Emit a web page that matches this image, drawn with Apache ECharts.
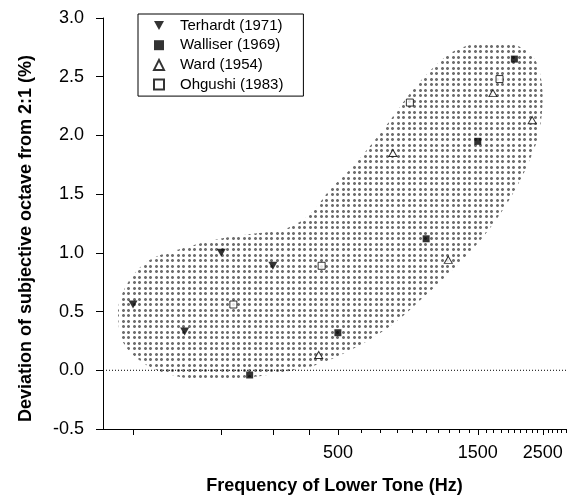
<!DOCTYPE html>
<html>
<head>
<meta charset="utf-8">
<script src="https://cdn.jsdelivr.net/npm/echarts@6/dist/echarts.min.js"></script>
<style>
  html, body { margin: 0; padding: 0; background: #fff; }
  #chart { width: 570px; height: 500px; }
</style>
</head>
<body>
<div id="chart"></div>
<script>
// Octave enlargement: deviation of the subjective octave from 2:1 vs. lower-tone frequency
const freqTerhardt = [100, 150, 200, 300];
const devTerhardt  = [0.56, 0.33, 1.00, 0.89];

const freqWalliser = [250, 500, 1000, 1500, 2000];
const devWalliser  = [-0.04, 0.32, 1.12, 1.95, 2.65];

const freqWard = [430, 770, 1190, 1690, 2300];
const devWard  = [0.13, 1.85, 0.94, 2.36, 2.13];

const freqOhgushi = [220, 440, 880, 1780];
const devOhgushi  = [0.56, 0.89, 2.28, 2.48];

// Outline of the shaded region enclosing the data (Hz, %)
const regionFreq = [89, 90, 98, 114, 148, 198, 251, 335, 402, 470, 550, 644, 754, 882, 1032,
  1208, 1413, 1654, 1935, 2212, 2392, 2488, 2488, 2411, 2264, 2044, 1831, 1615, 1413, 1180,
  977, 796, 660, 550, 470, 402, 352, 251, 169, 131, 106, 92];
const regionDev = [0.45, 0.59, 0.78, 0.94, 1.04, 1.12, 1.16, 1.21, 1.33, 1.54, 1.71, 1.91, 2.13,
  2.36, 2.55, 2.70, 2.77, 2.79, 2.78, 2.72, 2.61, 2.41, 2.22, 1.99, 1.80, 1.57, 1.37, 1.18,
  1.01, 0.81, 0.62, 0.42, 0.28, 0.17, 0.09, 0.03, 0.00, -0.06, -0.08, -0.03, 0.08, 0.25];

// Axis ticks (Hz) and labels
const xTickMajor = [100, 200, 300, 400, 500, 1500, 2500];
const xTickMinor = [600, 700, 800, 900, 1000, 1100, 1200, 1300, 1400, 1600, 1700, 1800, 1900,
  2000, 2100, 2200, 2300, 2400, 2600, 2700, 2800, 2900, 3000];
const xTickLabels = [500, 1500, 2500];
const xRange = [79, 3000];
const yRange = [-0.5, 3.0];
const yStep = 0.5;
const baseline = 0;

const FONT = '"Liberation Sans", Arial, Helvetica, sans-serif';
const lg = v => Math.log10(v);
const pairs = (f, d) => f.map((x, i) => [lg(x), d[i]]);

// Dot texture for the shaded region
function dotPattern() {
  const c = document.createElement('canvas');
  c.width = 11; c.height = 11;
  const g = c.getContext('2d');
  [[1, 1], [6, 1], [1, 6], [6, 6]].forEach(([x, y]) => {
    g.fillStyle = '#b4b4b4';
    g.fillRect(x, y, 3, 3);
    g.fillStyle = '#6f6f6f';
    g.fillRect(x + 1, y, 1, 3);
    g.fillRect(x, y + 1, 3, 1);
  });
  return c;
}
const pattern = { image: dotPattern(), repeat: 'repeat' };

const downTri = 'path://M0,0L10,0L5,9Z';

const chart = echarts.init(document.getElementById('chart'), null, { renderer: 'canvas' });

const tickFmt = v => String(Math.round(Math.pow(10, v)));

chart.setOption({
  animation: false,
  backgroundColor: '#fff',
  textStyle: { fontFamily: FONT, color: '#000' },
  grid: { left: 103, right: 4, top: 18, bottom: 67, containLabel: false },
  legend: {
    orient: 'vertical',
    left: 138, top: 14,
    padding: [2, 20, 2, 15],
    itemWidth: 10, itemHeight: 10, itemGap: 0.7,
    symbolKeepAspect: true,
    borderColor: '#000', borderWidth: 1,
    textStyle: { fontFamily: FONT, fontSize: 15, color: '#000', lineHeight: 19, padding: [0, 0, 0, 11] },
    data: ['Terhardt (1971)', 'Walliser (1969)', 'Ward (1954)', 'Ohgushi (1983)']
  },
  xAxis: [
    {
      type: 'value', min: lg(xRange[0]), max: lg(xRange[1]),
      name: 'Frequency of Lower Tone (Hz)', nameLocation: 'middle', nameGap: 48,
      nameTextStyle: { fontFamily: FONT, fontSize: 18, fontWeight: 'bold', color: '#000' },
      axisLine: { show: true, onZero: false, lineStyle: { color: '#000', width: 1 } },
      axisTick: { show: true, length: 6, customValues: xTickMajor.map(lg), lineStyle: { color: '#000' } },
      axisLabel: { show: true, customValues: xTickLabels.map(lg), formatter: tickFmt, margin: 15,
        fontFamily: FONT, fontSize: 18, color: '#000' },
      splitLine: { show: false }
    },
    {
      type: 'value', min: lg(xRange[0]), max: lg(xRange[1]), position: 'bottom',
      axisLine: { show: false, onZero: false },
      axisTick: { show: true, length: 4, customValues: xTickMinor.map(lg), lineStyle: { color: '#000' } },
      axisLabel: { show: false },
      splitLine: { show: false }
    }
  ],
  yAxis: {
    type: 'value', min: yRange[0], max: yRange[1], interval: yStep,
    name: 'Deviation of subjective octave from 2:1 (%)', nameLocation: 'middle', nameGap: 68,
    nameTextStyle: { fontFamily: FONT, fontSize: 18, fontWeight: 'bold', color: '#000', padding: [0, 30, 0, 0] },
    axisLine: { show: true, onZero: false, lineStyle: { color: '#000', width: 1 } },
    axisTick: { show: true, length: 7, lineStyle: { color: '#000' } },
    axisLabel: { margin: 19, fontFamily: FONT, fontSize: 18, color: '#000', formatter: v => v.toFixed(1) },
    splitLine: { show: false }
  },
  series: [
    {
      type: 'custom',
      name: 'region',
      z: 1,
      silent: true,
      data: pairs(regionFreq, regionDev),
      renderItem: (params, api) => {
        if (params.dataIndex !== 0) return null;
        const pts = regionFreq.map((f, i) => api.coord([lg(f), regionDev[i]]));
        return {
          type: 'polygon',
          shape: { points: pts, smooth: 0.35 },
          style: { fill: pattern, stroke: null }
        };
      }
    },
    {
      // dotted reference line at zero deviation
      type: 'line', name: 'baseline', z: 3, silent: true,
      symbol: 'none',
      lineStyle: { color: '#000', width: 1, type: [1, 2] },
      data: [[lg(xRange[0]), baseline], [lg(xRange[1]), baseline]]
    },
    {
      type: 'scatter', name: 'Terhardt (1971)', z: 5,
      symbol: downTri, symbolSize: [9, 8],
      itemStyle: { color: '#000' },
      data: pairs(freqTerhardt, devTerhardt)
    },
    {
      type: 'scatter', name: 'Walliser (1969)', z: 5,
      symbol: 'rect', symbolSize: 7,
      itemStyle: { color: '#000' },
      data: pairs(freqWalliser, devWalliser)
    },
    {
      type: 'scatter', name: 'Ward (1954)', z: 5,
      symbol: 'triangle', symbolSize: [8, 7],
      itemStyle: { color: '#fff', borderColor: '#000', borderWidth: 1 },
      data: pairs(freqWard, devWard)
    },
    {
      type: 'scatter', name: 'Ohgushi (1983)', z: 5,
      symbol: 'rect', symbolSize: 7,
      itemStyle: { color: '#fff', borderColor: '#000', borderWidth: 1 },
      data: pairs(freqOhgushi, devOhgushi)
    }
  ]
});
</script>
</body>
</html>
